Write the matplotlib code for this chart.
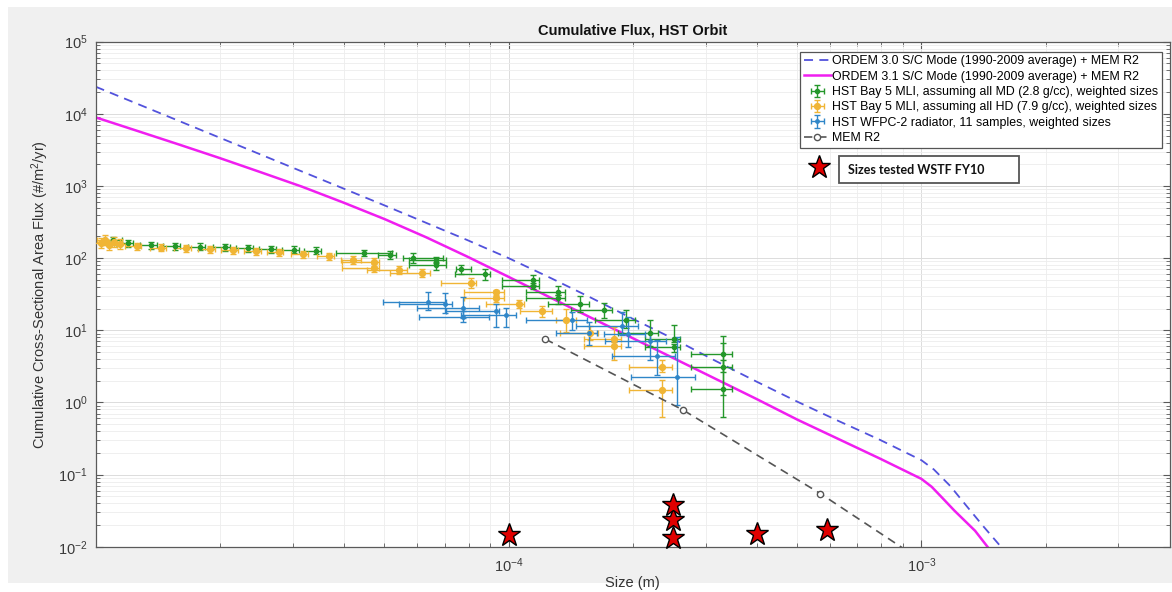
import numpy as np
import matplotlib
matplotlib.use('Agg')
import matplotlib.pyplot as plt
from matplotlib.lines import Line2D
from matplotlib.patches import Rectangle
from matplotlib.ticker import LogLocator, FixedLocator, NullFormatter

plt.rcParams['font.family'] = ['Liberation Sans', 'DejaVu Sans']
plt.rcParams['mathtext.fontset'] = 'custom'
plt.rcParams['mathtext.rm'] = 'Liberation Sans'
plt.rcParams['mathtext.it'] = 'Liberation Sans:italic'
plt.rcParams['mathtext.bf'] = 'Liberation Sans:bold'

# ---------------- data ----------------
ordem30_x = [1e-5, 3.162e-5, 5.012e-5, 6.310e-5, 7.943e-5, 1e-4, 1.259e-4, 1.585e-4,
             1.995e-4, 2.512e-4, 3.162e-4, 3.981e-4, 5.012e-4, 6.310e-4, 7.943e-4, 1e-3,
             1.072e-3, 1.175e-3, 1.288e-3, 1.413e-3, 1.585e-3]
ordem30_y = [23770, 1585, 537, 309, 178, 100, 53.7, 28.2,
             14.5, 7.59, 3.80, 1.95, 1.02, 0.550, 0.302, 0.158,
             0.1175, 0.0692, 0.0363, 0.0191, 0.0089]

ordem31_x = [1e-5, 1.259e-5, 1.585e-5, 1.995e-5, 2.512e-5, 3.162e-5, 3.981e-5, 5.012e-5,
             6.310e-5, 7.943e-5, 1e-4, 1.585e-4, 2.512e-4, 3.981e-4, 5.012e-4, 7.943e-4,
             1e-3, 1.059e-3, 1.122e-3, 1.202e-3, 1.349e-3, 1.445e-3]
ordem31_y = [8933, 5821, 3784, 2443, 1549, 977, 589, 347,
             195, 105, 55.0, 14.9, 4.09, 1.12, 0.575, 0.166,
             0.0871, 0.0676, 0.0479, 0.0316, 0.0166, 0.0100]

green_x = [1.10e-5, 1.20e-5, 1.365e-5, 1.554e-5, 1.786e-5, 2.053e-5, 2.336e-5, 2.661e-5,
           3.018e-5, 3.418e-5, 4.47e-5, 5.17e-5, 5.86e-5, 6.66e-5, 6.66e-5, 7.66e-5,
           8.79e-5, 1.145e-4, 1.145e-4, 1.318e-4, 1.318e-4, 1.493e-4, 1.699e-4, 1.928e-4,
           2.203e-4, 2.522e-4, 2.522e-4, 3.303e-4, 3.303e-4, 3.303e-4]
green_xlo = [1.05e-5, 1.121e-5, 1.277e-5, 1.454e-5, 1.671e-5, 1.920e-5, 2.185e-5, 2.489e-5,
             2.823e-5, 3.198e-5, 3.828e-5, 4.834e-5, 5.54e-5, 5.734e-5, 5.734e-5, 7.447e-5,
             7.438e-5, 9.634e-5, 9.634e-5, 1.100e-4, 1.100e-4, 1.243e-4, 1.414e-4, 1.622e-4,
             1.844e-4, 2.146e-4, 2.146e-4, 2.764e-4, 2.764e-4, 2.764e-4]
green_xhi = [1.16e-5, 1.233e-5, 1.404e-5, 1.598e-5, 1.837e-5, 2.111e-5, 2.402e-5, 2.736e-5,
             3.103e-5, 3.515e-5, 5.226e-5, 5.344e-5, 6.922e-5, 7.047e-5, 7.047e-5, 8.094e-5,
             9.04e-5, 1.184e-4, 1.184e-4, 1.373e-4, 1.373e-4, 1.569e-4, 1.776e-4, 2.027e-4,
             2.303e-4, 2.608e-4, 2.608e-4, 3.471e-4, 3.471e-4, 3.471e-4]
green_y = [180, 159.9, 151.4, 146.7, 143.5, 140.7, 136.3, 132.0, 129.9, 127.1, 118.4, 111.8,
           99.0, 93.8, 80.0, 70.4, 60.0, 49.5, 40.9, 34.1, 27.6, 23.0, 19.0, 14.1, 9.03,
           7.52, 5.92, 4.62, 3.05, 1.52]
green_ylo = [165, 143.0, 135.4, 131.2, 128.3, 125.8, 121.9, 118.0, 116.2, 113.6, 107.6, 98.3,
             84.4, 85.3, 68.2, 61.0, 50.4, 42.2, 37.2, 31.0, 22.9, 17.8, 14.9, 10.6, 5.96,
             6.83, 5.0, 2.62, 1.26, 0.629]
green_yhi = [195, 178.8, 169.3, 164.1, 160.5, 157.3, 152.4, 147.6, 145.3, 142.1, 130.4, 127.2,
             116.2, 104.2, 88.0, 81.2, 71.4, 58.1, 45.0, 41.0, 30.4, 29.7, 24.2, 18.8, 13.7,
             11.8, 6.52, 8.28, 6.56, 3.85]

orange_x = [1.030e-5, 1.053e-5, 1.077e-5, 1.107e-5, 1.145e-5, 1.256e-5, 1.443e-5, 1.652e-5,
            1.888e-5, 2.149e-5, 2.448e-5, 2.772e-5, 3.172e-5, 3.681e-5, 4.191e-5, 4.727e-5,
            4.727e-5, 5.433e-5, 6.183e-5, 8.094e-5, 9.303e-5, 9.303e-5, 1.059e-4, 1.205e-4,
            1.375e-4, 1.578e-4, 1.796e-4, 1.796e-4, 2.350e-4, 2.350e-4]
orange_xlo = [0.985e-5, 1.007e-5, 1.030e-5, 1.058e-5, 1.095e-5, 1.175e-5, 1.350e-5, 1.545e-5,
              1.766e-5, 2.011e-5, 2.290e-5, 2.593e-5, 2.968e-5, 3.443e-5, 3.920e-5, 3.957e-5,
              3.957e-5, 4.547e-5, 5.176e-5, 6.852e-5, 7.798e-5, 7.798e-5, 8.815e-5, 1.067e-4,
              1.301e-4, 1.335e-4, 1.520e-4, 1.520e-4, 1.956e-4, 1.956e-4]
orange_xhi = [1.077e-5, 1.101e-5, 1.127e-5, 1.158e-5, 1.198e-5, 1.291e-5, 1.484e-5, 1.699e-5,
              1.941e-5, 2.210e-5, 2.518e-5, 2.850e-5, 3.262e-5, 3.785e-5, 4.381e-5, 4.860e-5,
              4.860e-5, 5.679e-5, 6.464e-5, 8.323e-5, 9.741e-5, 9.741e-5, 1.089e-4, 1.275e-4,
              1.454e-4, 1.650e-4, 1.877e-4, 1.877e-4, 2.485e-4, 2.485e-4]
orange_y = [161.4, 177.7, 151.4, 166.7, 156.4, 146.7, 138.9, 137.6, 133.3, 129.1, 123.9, 120.0,
            113.6, 106.6, 95.3, 88.0, 73.8, 68.2, 61.4, 45.7, 33.8, 27.6, 23.4, 18.4, 13.7,
            9.03, 7.65, 6.11, 3.05, 1.51]
orange_ylo = [137.6, 151.5, 129.1, 142.1, 133.3, 131.2, 124.2, 123.1, 119.2, 115.5, 110.8, 107.3,
              101.6, 95.4, 83.9, 77.5, 65.0, 60.0, 54.0, 39.0, 31.2, 24.8, 20.6, 15.5, 9.43,
              7.22, 6.84, 3.85, 2.62, 0.629]
orange_yhi = [189.3, 208.4, 177.6, 195.5, 183.5, 164.0, 155.3, 153.9, 149.0, 144.3, 138.5, 134.2,
              127.0, 119.2, 108.3, 100.0, 83.8, 77.5, 69.7, 53.6, 36.0, 29.9, 26.6, 21.8, 19.8,
              11.3, 11.1, 6.84, 3.85, 2.03]

blue_x = [6.384e-5, 6.998e-5, 7.757e-5, 7.757e-5, 9.303e-5, 9.851e-5, 1.422e-4, 1.567e-4,
          1.878e-4, 1.945e-4, 2.203e-4, 2.286e-4, 2.554e-4]
blue_xlo = [4.957e-5, 5.433e-5, 6.003e-5, 6.069e-5, 7.058e-5, 7.671e-5, 1.101e-4, 1.301e-4,
            1.454e-4, 1.699e-4, 1.708e-4, 1.776e-4, 1.975e-4]
blue_xhi = [7.058e-5, 7.295e-5, 8.477e-5, 8.960e-5, 9.476e-5, 1.041e-4, 1.546e-4, 1.634e-4,
            2.053e-4, 2.142e-4, 2.412e-4, 2.531e-4, 2.835e-4]
blue_y = [24.8, 23.0, 20.1, 15.4, 18.4, 16.2, 13.8, 9.20, 11.4, 8.97, 7.18, 4.37, 2.26]
blue_ylo = [19.0, 17.4, 14.6, 13.0, 10.94, 11.0, 10.03, 6.21, 8.55, 5.89, 3.85, 2.39, 0.915]
blue_yhi = [34.1, 32.4, 29.1, 18.4, 23.5, 20.3, 18.0, 12.9, 18.0, 15.3, 9.03, 7.29, 8.10]

mem_x = [1.228e-4, 2.651e-4, 5.69e-4, 1.225e-3]
mem_y = [7.53, 0.78, 0.0545, 0.003]

star_x = [1e-4, 2.5e-4, 2.5e-4, 2.5e-4, 4e-4, 5.9e-4]
star_y = [0.0144, 0.0134, 0.0232, 0.0375, 0.0152, 0.0169]

x_labelled_ticks = [1e-4, 1e-3]

labels = ['ORDEM 3.0 S/C Mode (1990-2009 average) + MEM R2',
          'ORDEM 3.1 S/C Mode (1990-2009 average) + MEM R2',
          'HST Bay 5 MLI, assuming all MD (2.8 g/cc), weighted sizes',
          'HST Bay 5 MLI, assuming all HD (7.9 g/cc), weighted sizes',
          'HST WFPC-2 radiator, 11 samples, weighted sizes',
          'MEM R2']
star_label = 'Sizes tested WSTF FY10'

# ---------------- figure ----------------
W, H = 1172, 592
fig = plt.figure(figsize=(W / 100, H / 100), dpi=100, facecolor='white')
fig.patches.append(Rectangle((8 / W, 1 - 583 / H), (W - 8) / W, (583 - 7) / H,
                             transform=fig.transFigure, facecolor='#f0f0f0',
                             edgecolor='none', zorder=-10))
ax = fig.add_axes([95.7 / W, 1 - 546.7 / H, (1170 - 95.7) / W, (546.7 - 41.7) / H])
ax.set_facecolor('white')
ax.set_xscale('log')
ax.set_yscale('log')


def eb(x, xlo, xhi, y, ylo, yhi, color, ms, label):
    x = np.array(x); y = np.array(y)
    xerr = [x - np.array(xlo), np.array(xhi) - x]
    yerr = [y - np.array(ylo), np.array(yhi) - y]
    return ax.errorbar(x, y, xerr=xerr, yerr=yerr, fmt='o', color=color, ms=ms,
                       mec=color, mfc=color, elinewidth=1.0, capsize=2.3, capthick=1.0,
                       label=label, zorder=3)


h30, = ax.plot(ordem30_x, ordem30_y, ls=(0, (5, 3.5)), color='#5252dc', lw=1.3, zorder=2)
h31, = ax.plot(ordem31_x, ordem31_y, ls='-', color='#f01ef0', lw=1.8, zorder=2)
hg = eb(green_x, green_xlo, green_xhi, green_y, green_ylo, green_yhi, '#24972a', 3.0, labels[2])
ho = eb(orange_x, orange_xlo, orange_xhi, orange_y, orange_ylo, orange_yhi, '#f0b535', 4.2, labels[3])
hb = eb(blue_x, blue_xlo, blue_xhi, blue_y, blue_ylo, blue_yhi, '#2f86c8', 2.5, labels[4])
hm, = ax.plot(mem_x, mem_y, ls=(0, (5, 3.5)), color='#555555', lw=1.2, marker='o', ms=4.5,
              mfc='white', mec='#555555', mew=1.0, zorder=4)
ax.plot(star_x, star_y, ls='none', marker='*', ms=17, mfc='#e00000', mec='black', mew=1.0,
        zorder=6, clip_on=False)

ax.set_xlim(1e-5, 4e-3)
ax.set_ylim(1e-2, 1e5)

ax.xaxis.set_major_locator(FixedLocator(x_labelled_ticks))
ax.yaxis.set_major_locator(LogLocator(base=10, numticks=20))
ax.xaxis.set_minor_locator(LogLocator(base=10, subs=np.arange(1, 10), numticks=40))
ax.yaxis.set_minor_locator(LogLocator(base=10, subs=np.arange(2, 10), numticks=40))
ax.xaxis.set_minor_formatter(NullFormatter())
ax.yaxis.set_minor_formatter(NullFormatter())

ax.grid(True, which='major', color='#dcdcdc', lw=0.7, zorder=0)
ax.grid(True, which='minor', color='#ededed', lw=0.6, zorder=0)
ax.set_axisbelow(True)
for s in ax.spines.values():
    s.set_color('#5a5a5a')
    s.set_linewidth(0.9)
ax.tick_params(which='both', direction='in', top=True, right=True, color='#5a5a5a',
               labelcolor='#3a3a3a', labelsize=10.5)
ax.tick_params(which='major', length=5, width=0.8)
ax.tick_params(which='minor', length=3, width=0.6)
ax.tick_params(axis='y', pad=6)
ax.tick_params(axis='x', pad=7)

ax.set_title('Cumulative Flux, HST Orbit', fontsize=10.5, fontweight='bold', color='#111111', pad=5)
ax.set_xlabel('Size (m)', fontsize=10.5, color='#333333', labelpad=1)
ax.set_ylabel('Cumulative Cross-Sectional Area Flux (#/m$^2$/yr)', fontsize=10.5,
              color='#333333', labelpad=5)

leg = ax.legend([h30, h31, hg, ho, hb, hm], labels, loc='upper right',
                bbox_to_anchor=(1162 / W, 1 - 51.7 / H), bbox_transform=fig.transFigure,
                fontsize=8.9, frameon=True, fancybox=False, framealpha=1,
                edgecolor='#555555', handlelength=2.2, handletextpad=0.1,
                borderpad=0.3, labelspacing=0.27, borderaxespad=0)
leg.get_frame().set_linewidth(0.9)
leg.set_zorder(10)

# star annotation box
fig.patches.append(Rectangle((839 / W, 1 - 183 / H), 180 / W, 27 / H, transform=fig.transFigure,
                             facecolor='white', edgecolor='#555555', lw=1.3, zorder=11))
fig.text(848 / W, 1 - 170 / H, star_label, fontsize=9, fontweight='bold',
         family=['Lato', 'DejaVu Sans'], color='#111111', va='center', ha='left', zorder=12)
fig.add_artist(Line2D([819 / W], [1 - 167 / H], transform=fig.transFigure, ls='none',
                      marker='*', ms=17, mfc='#e00000', mec='black', mew=1.0, zorder=12))

fig.savefig('out.png', dpi=100, facecolor=fig.get_facecolor())
